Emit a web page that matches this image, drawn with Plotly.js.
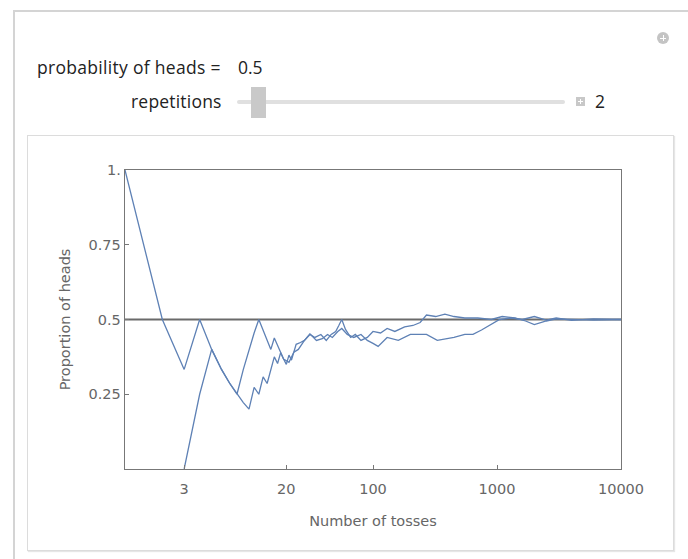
<!DOCTYPE html>
<html>
<head>
<meta charset="utf-8">
<script src="https://cdn.plot.ly/plotly-3.0.1.min.js"></script>
<style>
  html, body { margin: 0; padding: 0; background: #fff; overflow: hidden; }
  #wrap { position: relative; width: 688px; height: 559px; overflow: hidden; }
  .outer { position: absolute; left: 13px; top: 10px; width: 690px; height: 600px; border: 2px solid #d4d4d4; box-sizing: border-box; }
  .inner { position: absolute; left: 27px; top: 135px; width: 647px; height: 416px; border: 1px solid #dcdcdc; box-sizing: border-box; box-shadow: 1px 1px 1px #e6e6e6; background: #fff; }
  .ctl { position: absolute; font-family: "Open Sans", "Noto Sans", sans-serif; font-size: 17.5px; color: #222; white-space: nowrap; }
  .track { position: absolute; left: 237px; top: 100px; width: 328px; height: 4px; background: #e0e0e0; border-radius: 2px; }
  .thumb { position: absolute; left: 251px; top: 87px; width: 15px; height: 31px; background: #c9c9c9; }
  .plusbox { position: absolute; left: 576px; top: 97px; width: 9px; height: 9px; background: #c8c8c8; }
  .plusbox:before { content: ""; position: absolute; left: 2px; top: 4px; width: 5px; height: 1px; background: #fff; }
  .plusbox:after { content: ""; position: absolute; left: 4px; top: 2px; width: 1px; height: 5px; background: #fff; }
  .circ { position: absolute; left: 657px; top: 32px; width: 12px; height: 12px; border-radius: 50%; background: #c4c4c4; }
  .circ:before { content: ""; position: absolute; left: 3px; top: 5.5px; width: 6px; height: 1px; background: #fff; }
  .circ:after { content: ""; position: absolute; left: 5.5px; top: 3px; width: 1px; height: 6px; background: #fff; }
  #chart { position: absolute; left: 0; top: 0; width: 688px; height: 559px; }
</style>
</head>
<body>
<div id="wrap">
  <div class="outer"></div>
  <div class="circ"></div>
  <div class="ctl" style="left:37px; top:55px; letter-spacing:0.3px;">probability of heads =</div>
  <div class="ctl" style="left:238px; top:55px;">0.5</div>
  <div class="ctl" style="left:131px; top:89px; letter-spacing:0.2px;">repetitions</div>
  <div class="track"></div>
  <div class="thumb"></div>
  <div class="plusbox"></div>
  <div class="ctl" style="left:595px; top:89px;">2</div>
  <div class="inner"></div>
  <div id="chart"></div>
</div>
<script>
// ---- data ----
const tossesA = [1,2,3,4,5,6,7,8,9,10,11,12,13,14,15,16,17,18,19,20,
  21,22,23,24,26,28,31,34,38,42,46,50,53,56,60,66,72,80,90,100,115,130,150,180,210,240,270,320,380,450,550,700,900,1100,1400,1700,2000,2500,3000,4000,6000,10000];
const proportionA = [1,0.5,0.333,0.5,0.4,0.333,0.286,0.25,0.333,0.4,0.455,0.5,0.462,0.429,0.4,0.438,0.412,0.389,0.368,0.35,
  0.381,0.364,0.391,0.417,0.423,0.43,0.45,0.44,0.45,0.43,0.45,0.46,0.48,0.5,0.467,0.44,0.45,0.43,0.44,0.46,0.455,0.47,0.46,0.475,0.48,0.49,0.515,0.51,0.518,0.51,0.505,0.505,0.5,0.51,0.505,0.495,0.483,0.495,0.502,0.5,0.498,0.5];

const tossesB = [3,4,5,6,7,8,9,10,11,12,13,14,15,16,17,18,19,21,
  23,25,28,31,35,39,43,47,52,56,62,70,80,90,100,110,130,160,200,270,330,370,450,550,640,750,900,1050,1300,1600,2000,2500,3000,4000,6000,10000];
const proportionB = [0,0.25,0.4,0.333,0.286,0.25,0.222,0.2,0.273,0.25,0.308,0.286,0.333,0.375,0.353,0.389,0.368,0.357,
  0.391,0.4,0.43,0.452,0.43,0.436,0.45,0.44,0.46,0.47,0.45,0.44,0.45,0.43,0.42,0.41,0.44,0.43,0.45,0.45,0.43,0.433,0.44,0.45,0.45,0.465,0.485,0.5,0.505,0.5,0.51,0.498,0.505,0.497,0.502,0.5];

const referenceTosses = [1, 10000];
const referenceProportion = [0.5, 0.5];

const xTickVals = [3, 20, 100, 1000, 10000];
const xTickText = ["3", "20", "100", "1000", "10000"];
const yTickVals = [0.25, 0.5, 0.75, 1];
const yTickText = ["0.25", "0.5", "0.75", "1."];

const lineColor = "#5e81b5";

const traces = [
  { x: referenceTosses, y: referenceProportion, mode: "lines", line: { color: "#6a6a6a", width: 2 }, hoverinfo: "skip" },
  { x: tossesA, y: proportionA, mode: "lines", line: { color: lineColor, width: 1.3 } },
  { x: tossesB, y: proportionB, mode: "lines", line: { color: lineColor, width: 1.3 } }
];

const axisFont = { family: "DejaVu Sans, sans-serif", size: 14.5, color: "#666" };

const layout = {
  width: 688, height: 559,
  margin: { l: 125, r: 67, t: 170, b: 90 },
  paper_bgcolor: "rgba(0,0,0,0)",
  plot_bgcolor: "rgba(0,0,0,0)",
  showlegend: false,
  xaxis: {
    type: "log", range: [0, 4],
    tickvals: xTickVals, ticktext: xTickText,
    showgrid: false, zeroline: false,
    showline: true, mirror: true, linecolor: "#777", linewidth: 1.3,
    ticks: "inside", ticklen: 4, tickcolor: "#777", tickwidth: 1,
    ticklabelstandoff: 6,
    tickfont: axisFont,
    title: { text: "Number of tosses", font: axisFont, standoff: 20 }
  },
  yaxis: {
    range: [0, 1],
    tickvals: yTickVals, ticktext: yTickText,
    showgrid: false, zeroline: false,
    showline: true, mirror: true, linecolor: "#777", linewidth: 1.3,
    ticks: "inside", ticklen: 4, tickcolor: "#777", tickwidth: 1,
    tickfont: axisFont,
    title: { text: "Proportion of heads", font: axisFont, standoff: 14 }
  }
};

Plotly.newPlot("chart", traces, layout, { displayModeBar: false, staticPlot: true });
</script>
</body>
</html>
